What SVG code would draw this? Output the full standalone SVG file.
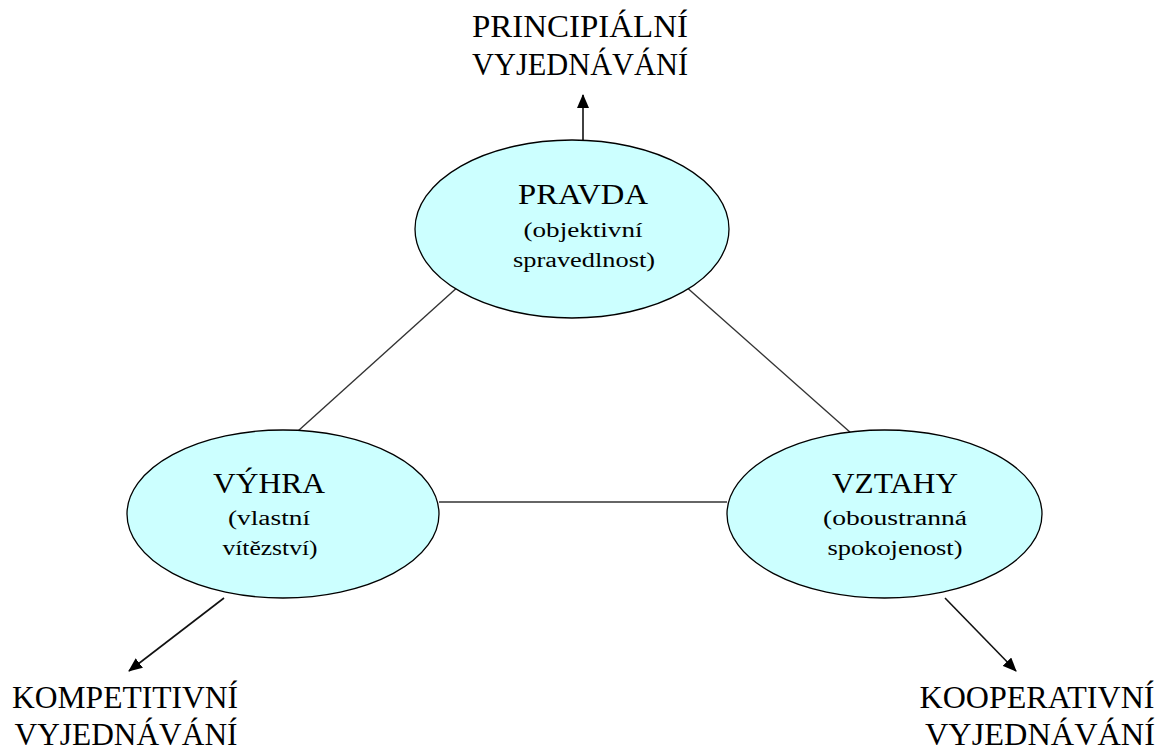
<svg xmlns="http://www.w3.org/2000/svg" width="1170" height="751" viewBox="0 0 1170 751">
  <style>
    .node ellipse { fill: #ccffff; stroke: #000; stroke-width: 1.3; }
    text { font-family: "Liberation Serif", "DejaVu Serif", serif; fill: #000; text-anchor: middle; }
    .big { font-size: 30px; }
    .small { font-size: 20px; }
    .outer { font-size: 31px; }
    .edge { stroke: #333; stroke-width: 1.4; fill: none; }
    .arrowed { stroke: #111; stroke-width: 1.6; }
  </style>
  <defs>
    <marker id="arrow" viewBox="0 0 14 12" refX="13" refY="6" markerWidth="14" markerHeight="12" markerUnits="userSpaceOnUse" orient="auto">
      <path d="M0,0 L14,6 L0,12 z" fill="#000"/>
    </marker>
  </defs>
  <rect width="1170" height="751" fill="#fff"/>

  <g id="connectors">
    <line class="edge" x1="460" y1="285" x2="298" y2="431"/>
    <line class="edge" x1="684" y1="285" x2="851" y2="433"/>
    <line class="edge" x1="439" y1="502" x2="727" y2="502"/>
    <line class="edge arrowed" x1="583" y1="140" x2="583" y2="95" marker-end="url(#arrow)"/>
    <line class="edge arrowed" x1="224" y1="598" x2="129" y2="671" marker-end="url(#arrow)"/>
    <line class="edge arrowed" x1="945" y1="598" x2="1016" y2="671" marker-end="url(#arrow)"/>
  </g>

  <g id="pravda" class="node">
    <ellipse cx="572" cy="229" rx="157" ry="89"/>
    <text class="big" x="583" y="204" textLength="130" lengthAdjust="spacingAndGlyphs">PRAVDA</text>
    <text class="small" x="583" y="237" textLength="119" lengthAdjust="spacingAndGlyphs">(objektivní</text>
    <text class="small" x="584" y="267" textLength="142" lengthAdjust="spacingAndGlyphs">spravedlnost)</text>
  </g>

  <g id="vyhra" class="node">
    <ellipse cx="283" cy="514" rx="156" ry="84"/>
    <text class="big" x="269" y="493" textLength="112" lengthAdjust="spacingAndGlyphs">VÝHRA</text>
    <text class="small" x="269" y="525" textLength="82" lengthAdjust="spacingAndGlyphs">(vlastní</text>
    <text class="small" x="270" y="555" textLength="95" lengthAdjust="spacingAndGlyphs">vítězství)</text>
  </g>

  <g id="vztahy" class="node">
    <ellipse cx="884.5" cy="514" rx="157.5" ry="84"/>
    <text class="big" x="895" y="493" textLength="126" lengthAdjust="spacingAndGlyphs">VZTAHY</text>
    <text class="small" x="895" y="525" textLength="144" lengthAdjust="spacingAndGlyphs">(oboustranná</text>
    <text class="small" x="895" y="555" textLength="135" lengthAdjust="spacingAndGlyphs">spokojenost)</text>
  </g>

  <g id="principialni">
    <text class="outer" x="580" y="37" textLength="216" lengthAdjust="spacingAndGlyphs">PRINCIPIÁLNÍ</text>
    <text class="outer" x="580" y="75" textLength="216" lengthAdjust="spacingAndGlyphs">VYJEDNÁVÁNÍ</text>
  </g>

  <g id="kompetitivni">
    <text class="outer" x="125" y="708" textLength="226" lengthAdjust="spacingAndGlyphs">KOMPETITIVNÍ</text>
    <text class="outer" x="126" y="745" textLength="223" lengthAdjust="spacingAndGlyphs">VYJEDNÁVÁNÍ</text>
  </g>

  <g id="kooperativni">
    <text class="outer" x="1037" y="708" textLength="235" lengthAdjust="spacingAndGlyphs">KOOPERATIVNÍ</text>
    <text class="outer" x="1040" y="745" textLength="230" lengthAdjust="spacingAndGlyphs">VYJEDNÁVÁNÍ</text>
  </g>
</svg>
